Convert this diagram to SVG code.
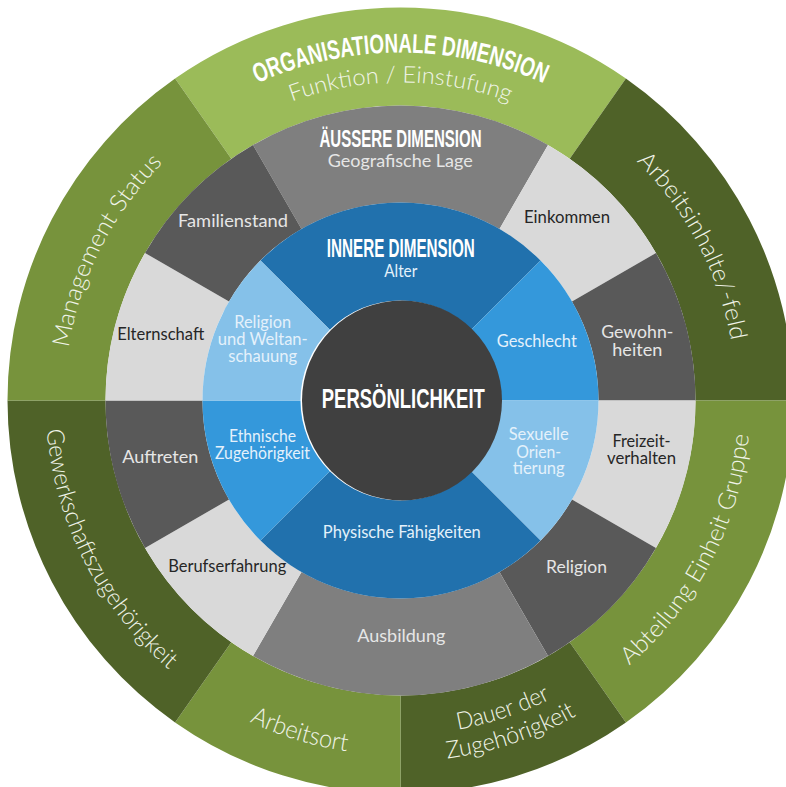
<svg xmlns="http://www.w3.org/2000/svg" xmlns:xlink="http://www.w3.org/1999/xlink" width="786" height="787" viewBox="0 0 786 787">
  <style>
    .g-light { fill: #9bbb59; }
    .g-mid { fill: #77933c; }
    .g-dark { fill: #4f6228; }
    .k-mid { fill: #7f7f7f; }
    .k-light { fill: #d9d9d9; }
    .k-dark { fill: #595959; }
    .b-dark { fill: #2171ad; }
    .b-mid { fill: #3498db; }
    .b-light { fill: #85c1e9; }
    .core { fill: #404040; }
    .head { font-family: "Liberation Sans Narrow", "Liberation Sans", Arial, sans-serif; font-weight: bold; fill: #ffffff; text-anchor: middle; }
    .ring { font-family: Lato, "Open Sans", sans-serif; font-weight: 300; fill: #f0f4e8; text-anchor: middle; }
    .lbl { font-family: Lato, "Open Sans", sans-serif; font-size: 16.5px; text-anchor: middle; }
    .on-dark { fill: #e6e6e6; }
    .on-light { fill: #262626; }
    .on-blue { fill: #e4f1fb; }
  </style>
  <defs>
    <!-- baselines for the curved outer labels (clockwise on top, counter-clockwise at the bottom) -->
    <path id="arc-org" d="M-301.38,-174 A348,348 0 0 1 301.38,-174"/>
    <path id="arc-funk" d="M-275.4,-159 A318,318 0 0 1 275.4,-159"/>
    <path id="arc-mgmt" d="M-335.54,17.58 A336,336 0 0 1 -183,-281.79"/>
    <path id="arc-inhalt" d="M179.05,-284.32 A336,336 0 0 1 335.75,12.9"/>
    <path id="arc-abt" d="M188.57,294.86 A350,350 0 0 0 349.64,-15.88"/>
    <path id="arc-dauer1" d="M-67.73,327.06 A334,334 0 0 0 249.38,222.19"/>
    <path id="arc-dauer2" d="M-73.21,353.5 A361,361 0 0 0 269.54,240.15"/>
    <path id="arc-ort" d="M-259.63,242.11 A355,355 0 0 0 80.46,345.76"/>
    <path id="arc-gew" d="M-354.51,-18.58 A355,355 0 0 0 -193.35,297.73"/>
  </defs>

  <g transform="translate(400.5 400.5)">
    <!-- outer ring: organisational dimension -->
    <g id="org-funktion">
      <path class="g-light" d="M-225.42,-321.93 A393,393 0 0 1 225.42,-321.93 L169.21,-241.65 A295,295 0 0 0 -169.21,-241.65 Z"/>
      <text class="head" font-size="27"><textPath xlink:href="#arc-org" href="#arc-org" startOffset="50%" textLength="295" lengthAdjust="spacingAndGlyphs">ORGANISATIONALE DIMENSION</textPath></text>
      <text class="ring" font-size="23"><textPath xlink:href="#arc-funk" href="#arc-funk" startOffset="50%" textLength="222" lengthAdjust="spacingAndGlyphs">Funktion / Einstufung</textPath></text>
    </g>
    <g id="org-arbeitsinhalte">
      <path class="g-dark" d="M225.42,-321.93 A393,393 0 0 1 393,0 L295,0 A295,295 0 0 0 169.21,-241.65 Z"/>
      <text class="ring" font-size="24"><textPath xlink:href="#arc-inhalt" href="#arc-inhalt" startOffset="50%" textLength="206" lengthAdjust="spacingAndGlyphs">Arbeitsinhalte/-feld</textPath></text>
    </g>
    <g id="org-abteilung">
      <path class="g-mid" d="M393,0 A393,393 0 0 1 225.42,321.93 L169.21,241.65 A295,295 0 0 0 295,0 Z"/>
      <text class="ring" font-size="24"><textPath xlink:href="#arc-abt" href="#arc-abt" startOffset="50%" textLength="266" lengthAdjust="spacingAndGlyphs">Abteilung Einheit Gruppe</textPath></text>
    </g>
    <g id="org-dauer">
      <path class="g-dark" d="M225.42,321.93 A393,393 0 0 1 0,393 L0,295 A295,295 0 0 0 169.21,241.65 Z"/>
      <text class="ring" font-size="24"><textPath xlink:href="#arc-dauer1" href="#arc-dauer1" startOffset="50%" textLength="98" lengthAdjust="spacingAndGlyphs">Dauer der</textPath></text>
      <text class="ring" font-size="24"><textPath xlink:href="#arc-dauer2" href="#arc-dauer2" startOffset="50%" textLength="137" lengthAdjust="spacingAndGlyphs">Zugehörigkeit</textPath></text>
    </g>
    <g id="org-arbeitsort">
      <path class="g-mid" d="M0,393 A393,393 0 0 1 -225.42,321.93 L-169.21,241.65 A295,295 0 0 0 0,295 Z"/>
      <text class="ring" font-size="25"><textPath xlink:href="#arc-ort" href="#arc-ort" startOffset="50%" textLength="102" lengthAdjust="spacingAndGlyphs">Arbeitsort</textPath></text>
    </g>
    <g id="org-gewerkschaft">
      <path class="g-dark" d="M-225.42,321.93 A393,393 0 0 1 -393,0 L-295,0 A295,295 0 0 0 -169.21,241.65 Z"/>
      <text class="ring" font-size="24"><textPath xlink:href="#arc-gew" href="#arc-gew" startOffset="50%" textLength="276" lengthAdjust="spacingAndGlyphs">Gewerkschaftszugehörigkeit</textPath></text>
    </g>
    <g id="org-management">
      <path class="g-mid" d="M-393,0 A393,393 0 0 1 -225.42,-321.93 L-169.21,-241.65 A295,295 0 0 0 -295,0 Z"/>
      <text class="ring" font-size="24"><textPath xlink:href="#arc-mgmt" href="#arc-mgmt" startOffset="50%" textLength="211" lengthAdjust="spacingAndGlyphs">Management Status</textPath></text>
    </g>

    <!-- middle ring: external dimension -->
    <g id="ext-lage">
      <path class="k-mid" d="M-147.5,-255.48 A295,295 0 0 1 147.5,-255.48 L99,-171.47 A198,198 0 0 0 -99,-171.47 Z"/>
      <text class="head" x="0" y="-253.8" font-size="24" textLength="162" lengthAdjust="spacingAndGlyphs">ÄUSSERE DIMENSION</text>
      <text class="lbl on-dark" x="-0.3" y="-233.8" font-size="17" textLength="145" lengthAdjust="spacingAndGlyphs">Geografische Lage</text>
    </g>
    <g id="ext-einkommen">
      <path class="k-light" d="M147.5,-255.48 A295,295 0 0 1 255.48,-147.5 L171.47,-99 A198,198 0 0 0 99,-171.47 Z"/>
      <text class="lbl on-light" x="166.5" y="-177.8" textLength="86" lengthAdjust="spacingAndGlyphs">Einkommen</text>
    </g>
    <g id="ext-gewohnheiten">
      <path class="k-dark" d="M255.48,-147.5 A295,295 0 0 1 295,0 L198,0 A198,198 0 0 0 171.47,-99 Z"/>
      <text class="lbl on-dark" x="236.8" y="-63" textLength="72" lengthAdjust="spacingAndGlyphs">Gewohn-</text>
      <text class="lbl on-dark" x="236.8" y="-45" textLength="50" lengthAdjust="spacingAndGlyphs">heiten</text>
    </g>
    <g id="ext-freizeit">
      <path class="k-light" d="M295,0 A295,295 0 0 1 255.48,147.5 L171.47,99 A198,198 0 0 0 198,0 Z"/>
      <text class="lbl on-light" x="241" y="46.5" textLength="58" lengthAdjust="spacingAndGlyphs">Freizeit-</text>
      <text class="lbl on-light" x="241" y="63.8" textLength="69" lengthAdjust="spacingAndGlyphs">verhalten</text>
    </g>
    <g id="ext-religion">
      <path class="k-dark" d="M255.48,147.5 A295,295 0 0 1 147.5,255.48 L99,171.47 A198,198 0 0 0 171.47,99 Z"/>
      <text class="lbl on-dark" x="176" y="172.5" textLength="61" lengthAdjust="spacingAndGlyphs">Religion</text>
    </g>
    <g id="ext-ausbildung">
      <path class="k-mid" d="M147.5,255.48 A295,295 0 0 1 -147.5,255.48 L-99,171.47 A198,198 0 0 0 99,171.47 Z"/>
      <text class="lbl on-dark" x="0.8" y="241.5" textLength="88" lengthAdjust="spacingAndGlyphs">Ausbildung</text>
    </g>
    <g id="ext-berufserfahrung">
      <path class="k-light" d="M-147.5,255.48 A295,295 0 0 1 -255.48,147.5 L-171.47,99 A198,198 0 0 0 -99,171.47 Z"/>
      <text class="lbl on-light" x="-173.3" y="171.5" textLength="118" lengthAdjust="spacingAndGlyphs">Berufserfahrung</text>
    </g>
    <g id="ext-auftreten">
      <path class="k-dark" d="M-255.48,147.5 A295,295 0 0 1 -295,0 L-198,0 A198,198 0 0 0 -171.47,99 Z"/>
      <text class="lbl on-dark" x="-240.2" y="62.5" textLength="76" lengthAdjust="spacingAndGlyphs">Auftreten</text>
    </g>
    <g id="ext-elternschaft">
      <path class="k-light" d="M-295,0 A295,295 0 0 1 -255.48,-147.5 L-171.47,-99 A198,198 0 0 0 -198,0 Z"/>
      <text class="lbl on-light" x="-239.8" y="-61" textLength="87" lengthAdjust="spacingAndGlyphs">Elternschaft</text>
    </g>
    <g id="ext-familienstand">
      <path class="k-dark" d="M-255.48,-147.5 A295,295 0 0 1 -147.5,-255.48 L-99,-171.47 A198,198 0 0 0 -171.47,-99 Z"/>
      <text class="lbl on-dark" x="-167.5" y="-173.5" textLength="110" lengthAdjust="spacingAndGlyphs">Familienstand</text>
    </g>

    <!-- inner ring: internal dimension -->
    <g id="int-alter">
      <path class="b-dark" d="M-140.01,-140.01 A198,198 0 0 1 140.01,-140.01 L70.71,-70.71 A100,100 0 0 0 -70.71,-70.71 Z"/>
      <text class="head" x="0.3" y="-143.8" font-size="25" textLength="148" lengthAdjust="spacingAndGlyphs">INNERE DIMENSION</text>
      <text class="lbl on-blue" x="0.2" y="-123.8" textLength="33" lengthAdjust="spacingAndGlyphs">Alter</text>
    </g>
    <g id="int-geschlecht">
      <path class="b-mid" d="M140.01,-140.01 A198,198 0 0 1 198,0 L100,0 A100,100 0 0 0 70.71,-70.71 Z"/>
      <text class="lbl on-blue" x="136.3" y="-53.8" textLength="80" lengthAdjust="spacingAndGlyphs">Geschlecht</text>
    </g>
    <g id="int-orientierung">
      <path class="b-light" d="M198,0 A198,198 0 0 1 140.01,140.01 L70.71,70.71 A100,100 0 0 0 100,0 Z"/>
      <text class="lbl on-blue" x="138.2" y="39.8" textLength="60" lengthAdjust="spacingAndGlyphs">Sexuelle</text>
      <text class="lbl on-blue" x="138.2" y="57.5" textLength="45" lengthAdjust="spacingAndGlyphs">Orien-</text>
      <text class="lbl on-blue" x="138.2" y="73.8" textLength="52" lengthAdjust="spacingAndGlyphs">tierung</text>
    </g>
    <g id="int-faehigkeiten">
      <path class="b-dark" d="M140.01,140.01 A198,198 0 0 1 -140.01,140.01 L-70.71,70.71 A100,100 0 0 0 70.71,70.71 Z"/>
      <text class="lbl on-blue" x="1.3" y="137.2" textLength="158" lengthAdjust="spacingAndGlyphs">Physische Fähigkeiten</text>
    </g>
    <g id="int-ethnie">
      <path class="b-mid" d="M-140.01,140.01 A198,198 0 0 1 -198,0 L-100,0 A100,100 0 0 0 -70.71,70.71 Z"/>
      <text class="lbl on-blue" x="-138" y="41.5" textLength="67" lengthAdjust="spacingAndGlyphs">Ethnische</text>
      <text class="lbl on-blue" x="-138" y="58.2" textLength="95" lengthAdjust="spacingAndGlyphs">Zugehörigkeit</text>
    </g>
    <g id="int-weltanschauung">
      <path class="b-light" d="M-198,0 A198,198 0 0 1 -140.01,-140.01 L-70.71,-70.71 A100,100 0 0 0 -100,0 Z"/>
      <text class="lbl on-blue" x="-137.8" y="-72.2" textLength="57" lengthAdjust="spacingAndGlyphs">Religion</text>
      <text class="lbl on-blue" x="-137.8" y="-55.5" textLength="90" lengthAdjust="spacingAndGlyphs">und Weltan-</text>
      <text class="lbl on-blue" x="-137.8" y="-38.5" textLength="69" lengthAdjust="spacingAndGlyphs">schauung</text>
    </g>

    <!-- core -->
    <g id="persoenlichkeit">
      <circle class="core" cx="1.5" cy="0" r="100"/>
      <text class="head" x="2.8" y="7.8" font-size="28" textLength="163" lengthAdjust="spacingAndGlyphs">PERSÖNLICHKEIT</text>
    </g>
  </g>
</svg>
